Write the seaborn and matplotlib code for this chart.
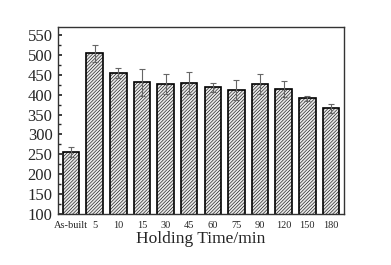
import matplotlib
matplotlib.use("Agg")
import matplotlib.pyplot as plt
import seaborn as sns
import pandas as pd
import numpy as np
from matplotlib.ticker import MultipleLocator

categories = ["As-built", "5", "10", "15", "30", "45", "60", "75", "90", "120", "150", "180"]
hardness = [256, 504, 455, 431, 426, 429, 418, 412, 427, 415, 391, 366]
errors = [12, 22, 12, 34, 25, 28, 12, 25, 26, 20, 6, 11]

sns.set_theme(style="ticks")
plt.rcParams['font.family'] = ['Liberation Serif', 'DejaVu Serif']
plt.rcParams['hatch.color'] = '#a8a8a8'
plt.rcParams['hatch.linewidth'] = 0.4

df = pd.DataFrame({"cat": categories, "val": hardness})

fig = plt.figure(figsize=(3.91, 2.65), dpi=100)
ax = fig.add_axes([58/391, 1-214/265, (344-58)/391, (214-27)/265])

sns.barplot(data=df, x="cat", y="val", ax=ax, color="#e8e8e8", width=0.7,
            edgecolor="black", linewidth=1.2, errorbar=None, hatch="//////////")
ax.errorbar(np.arange(len(categories)), hardness, yerr=errors, fmt="none",
            ecolor="#666666", elinewidth=0.8, capsize=2.5, capthick=0.8)

ax.set_ylim(100, 570)
ax.set_xlim(-0.55, len(categories) - 0.45)
ax.set_yticks(np.arange(100, 551, 50))
ax.yaxis.set_minor_locator(MultipleLocator(25))
ax.tick_params(axis="y", which="major", direction="in", length=3, labelsize=12, pad=4)
ax.tick_params(axis="y", which="minor", direction="in", length=2)
ax.tick_params(axis="x", length=0, labelsize=7.5, pad=5)
ax.set_xlabel("Holding Time/min", fontsize=12.5, labelpad=1)
ax.set_ylabel("")
for s in ax.spines.values():
    s.set_visible(True)
    s.set_color("#333333")
    s.set_linewidth(1.0)

fig.savefig("out.png", dpi=100)
